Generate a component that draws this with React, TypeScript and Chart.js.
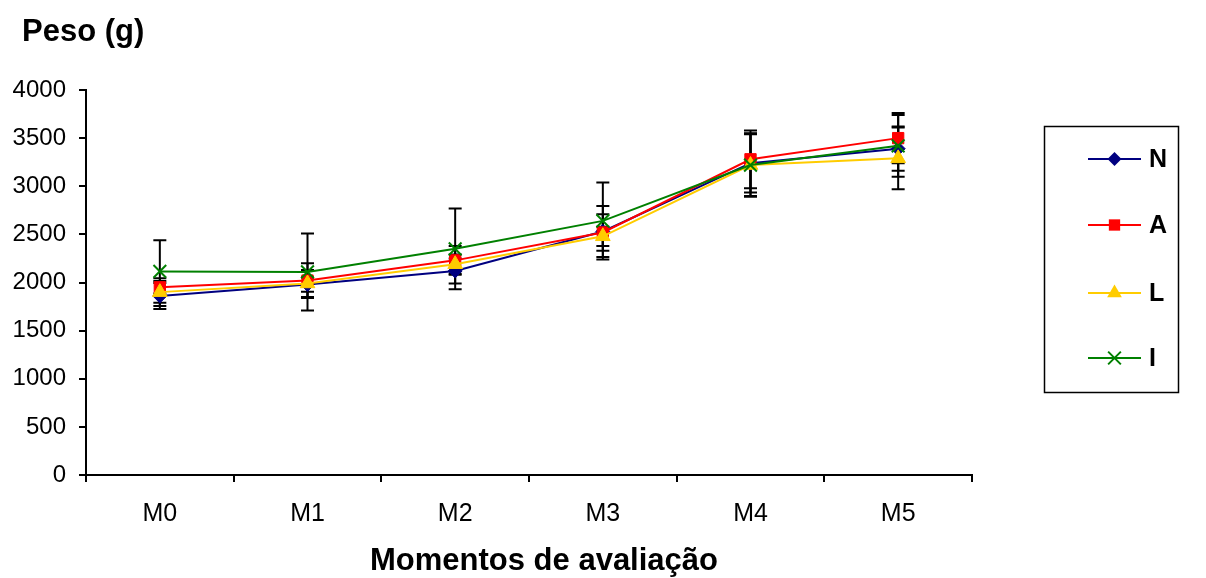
import { useEffect, useRef } from 'react';
import { Chart, registerables } from 'chart.js';

Chart.register(...registerables);

const categories = ['M0', 'M1', 'M2', 'M3', 'M4', 'M5'];
const seriesNames = ['N', 'A', 'L', 'I'];
const valuesN = [1860, 1980, 2120, 2530, 3240, 3390];
const valuesA = [1950, 2020, 2230, 2520, 3280, 3500];
const valuesL = [1900, 1990, 2190, 2480, 3220, 3290];
const valuesI = [2115, 2110, 2350, 2640, 3220, 3420];
const errN = [135, 75, 130, 265, 305, 230];
const errA = [65, 180, 150, 190, 300, 260];
const errL = [145, 140, 100, 100, 330, 320];
const errI = [325, 400, 420, 400, 320, 320];
const yTicks = [0, 500, 1000, 1500, 2000, 2500, 3000, 3500, 4000];

const colors = ['#000080', '#FF0000', '#FFCC00', '#008000'];
const styles = ['rectRot', 'rect', 'triangle', 'crossRot'];
const radii = [7, 8, 8.5, 9];
const allValues = [valuesN, valuesA, valuesL, valuesI];
const allErrs = [errN, errA, errL, errI];

const FONT = "'Liberation Sans', Arial, Helvetica, sans-serif";

function drawMarker(ctx: CanvasRenderingContext2D, style: string, x: number, y: number, r: number, color: string) {
  ctx.save();
  ctx.fillStyle = color;
  ctx.strokeStyle = color;
  ctx.lineWidth = 2;
  ctx.beginPath();
  if (style === 'rectRot') {
    ctx.moveTo(x - r, y);
    ctx.lineTo(x, y - r);
    ctx.lineTo(x + r, y);
    ctx.lineTo(x, y + r);
    ctx.closePath();
    ctx.fill();
  } else if (style === 'rect') {
    const s = r * Math.SQRT1_2;
    ctx.rect(x - s, y - s, 2 * s, 2 * s);
    ctx.fill();
  } else if (style === 'triangle') {
    const h = r * 1.5;
    const w = r * Math.sqrt(3);
    ctx.moveTo(x, y - r);
    ctx.lineTo(x + w / 2, y - r + h);
    ctx.lineTo(x - w / 2, y - r + h);
    ctx.closePath();
    ctx.fill();
  } else {
    const d = r * Math.SQRT1_2;
    ctx.moveTo(x - d, y - d);
    ctx.lineTo(x + d, y + d);
    ctx.moveTo(x + d, y - d);
    ctx.lineTo(x - d, y + d);
    ctx.stroke();
  }
  ctx.restore();
}

const errorBarPlugin = {
  id: 'errorBars',
  beforeDatasetsDraw(chart: any) {
    const ctx = chart.ctx as CanvasRenderingContext2D;
    const yScale = chart.scales.y;
    ctx.save();
    ctx.strokeStyle = '#000000';
    chart.data.datasets.forEach((ds: any, i: number) => {
      const meta = chart.getDatasetMeta(i);
      meta.data.forEach((pt: any, j: number) => {
        const v = ds.data[j] as number;
        const e = allErrs[i][j];
        const yTop = yScale.getPixelForValue(v + e);
        const yBot = yScale.getPixelForValue(v - e);
        const x = pt.x;
        ctx.lineWidth = 2;
        ctx.beginPath();
        ctx.moveTo(x, yTop);
        ctx.lineTo(x, yBot);
        ctx.stroke();
        ctx.lineWidth = 2;
        ctx.beginPath();
        ctx.moveTo(x - 6.5, yTop);
        ctx.lineTo(x + 6.5, yTop);
        ctx.moveTo(x - 6.5, yBot);
        ctx.lineTo(x + 6.5, yBot);
        ctx.stroke();
      });
    });
    ctx.restore();
  },
};

const decorPlugin = {
  id: 'decor',
  afterDraw(chart: any) {
    const ctx = chart.ctx as CanvasRenderingContext2D;
    ctx.save();
    ctx.fillStyle = '#000000';
    ctx.font = `bold 31px ${FONT}`;
    ctx.textBaseline = 'middle';
    ctx.textAlign = 'left';
    ctx.fillText('Peso (g)', 22, 32);
    ctx.textAlign = 'center';
    ctx.fillText('Momentos de avaliação', 544, 561);

    // legend box
    ctx.strokeStyle = '#000000';
    ctx.lineWidth = 1.5;
    ctx.strokeRect(1044.5, 126.5, 134, 266);
    const ys = [159, 225, 293, 358];
    seriesNames.forEach((name, i) => {
      const y = ys[i];
      ctx.strokeStyle = colors[i];
      ctx.lineWidth = 2;
      ctx.beginPath();
      ctx.moveTo(1088, y);
      ctx.lineTo(1141, y);
      ctx.stroke();
      drawMarker(ctx, styles[i], 1114.5, y, radii[i], colors[i]);
      ctx.fillStyle = '#000000';
      ctx.font = `bold 25px ${FONT}`;
      ctx.textAlign = 'left';
      ctx.textBaseline = 'middle';
      ctx.fillText(name, 1149, y + 1);
    });
    ctx.restore();
  },
};

export default function App() {
  const canvasRef = useRef<HTMLCanvasElement | null>(null);

  useEffect(() => {
    if (!canvasRef.current) return;
    const datasets = allValues.map((vals, i) => ({
      label: seriesNames[i],
      data: vals,
      borderColor: colors[i],
      backgroundColor: colors[i],
      borderWidth: 2,
      pointStyle: styles[i] as any,
      pointRadius: radii[i],
      pointBackgroundColor: colors[i],
      pointBorderColor: colors[i],
      pointBorderWidth: i === 3 ? 2 : 1,
      tension: 0,
      fill: false,
      order: 3 - i,
    }));
    const chart = new Chart(canvasRef.current, {
      type: 'line',
      data: { labels: categories, datasets },
      options: {
        animation: false,
        responsive: false,
        devicePixelRatio: 1,
        layout: { padding: { top: 90, right: 234, left: 0, bottom: 0 } },
        plugins: {
          legend: { display: false },
          tooltip: { enabled: false },
          title: { display: false },
        },
        scales: {
          x: {
            offset: true,
            grid: {
              offset: true,
              drawOnChartArea: false,
              drawTicks: true,
              tickLength: 7,
              color: '#000000',
              lineWidth: 2,
            },
            border: { display: true, color: '#000000', width: 2 },
            ticks: {
              color: '#000000',
              font: { family: FONT, size: 25 },
              padding: 17,
              maxRotation: 0,
            },
            afterFit: (s: any) => {
              s.height = 103;
            },
          },
          y: {
            min: 0,
            max: 4000,
            afterBuildTicks: (s: any) => {
              s.ticks = yTicks.map((v) => ({ value: v }));
            },
            grid: {
              drawOnChartArea: false,
              drawTicks: true,
              tickLength: 7,
              color: '#000000',
              lineWidth: 2,
            },
            border: { display: true, color: '#000000', width: 2 },
            ticks: {
              color: '#000000',
              font: { family: FONT, size: 24 },
              padding: 13,
              callback: (v: any) => String(v),
            },
            afterFit: (s: any) => {
              s.width = 86;
            },
          },
        },
      },
      plugins: [errorBarPlugin, decorPlugin],
    });
    return () => chart.destroy();
  }, []);

  return (
    <div style={{ position: 'fixed', left: 0, top: 0, width: 1206, height: 578, background: '#ffffff' }}>
      <canvas ref={canvasRef} width={1206} height={578} />
    </div>
  );
}
